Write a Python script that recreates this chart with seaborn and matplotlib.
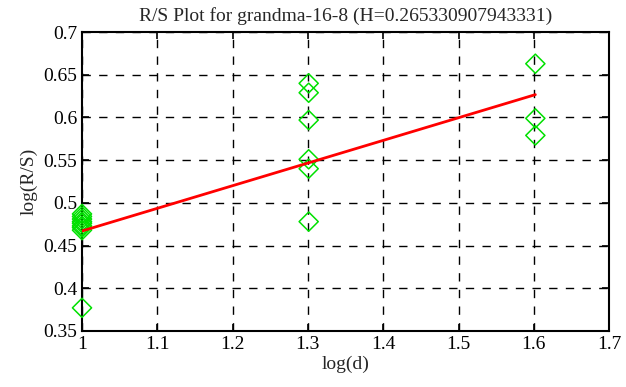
import numpy as np
import pandas as pd
import matplotlib
matplotlib.use("Agg")
import matplotlib.pyplot as plt
import seaborn as sns

# R/S values (x = log10 of window size)
x_d10 = [1.0] * 9
y_d10 = [0.487, 0.484, 0.481, 0.478, 0.476, 0.473, 0.471, 0.468, 0.377]
x_d20 = [1.30103] * 6
y_d20 = [0.640, 0.629, 0.597, 0.551, 0.540, 0.478]
x_d40 = [1.60206] * 3
y_d40 = [0.663, 0.599, 0.579]

H = 0.265330907943331
intercept = 0.2017  # read from where the fit crosses x=1
title = "R/S Plot for grandma-16-8 (H=0.265330907943331)"
xticks = [1, 1.1, 1.2, 1.3, 1.4, 1.5, 1.6, 1.7]
yticks = [0.35, 0.4, 0.45, 0.5, 0.55, 0.6, 0.65, 0.7]

df = pd.DataFrame({
    "logd": x_d10 + x_d20 + x_d40,
    "logrs": y_d10 + y_d20 + y_d40,
})

fit = pd.DataFrame({"logd": [1.0, 1.60206]})
fit["logrs"] = H * fit["logd"] + intercept

sns.set_style("ticks")
plt.rcParams["font.family"] = ["Liberation Serif", "DejaVu Serif"]

fig = plt.figure(figsize=(6.26, 3.87), dpi=100)
ax = fig.add_axes([0.131, 0.145, 0.842, 0.772])

sns.scatterplot(data=df, x="logd", y="logrs", ax=ax, marker="D", s=95,
                facecolor="none", edgecolor="#00e000", linewidth=1.1, zorder=3,
                clip_on=False)
sns.lineplot(data=fit, x="logd", y="logrs", ax=ax, color="red", linewidth=2, zorder=4)

ax.set_xlim(1, 1.7)
ax.set_ylim(0.35, 0.7)
ax.set_xticks(xticks)
ax.set_xticklabels([f"{t:g}" for t in xticks])
ax.set_yticks(yticks)
ax.set_yticklabels([f"{t:g}" for t in yticks])
ax.grid(True, color="black", linestyle=(0, (6, 6)), linewidth=1)
ax.tick_params(direction="in", length=5, width=1.2, labelsize=14, top=True, right=True, colors="black")
for sp in ax.spines.values():
    sp.set_linewidth(1.5)
    sp.set_color("black")

ax.set_xlabel("log(d)", fontsize=14, labelpad=2)
ax.set_ylabel("log(R/S)", fontsize=14, labelpad=4)
ax.set_title(title, fontsize=14, pad=8)

fig.savefig("out.png", dpi=100)
